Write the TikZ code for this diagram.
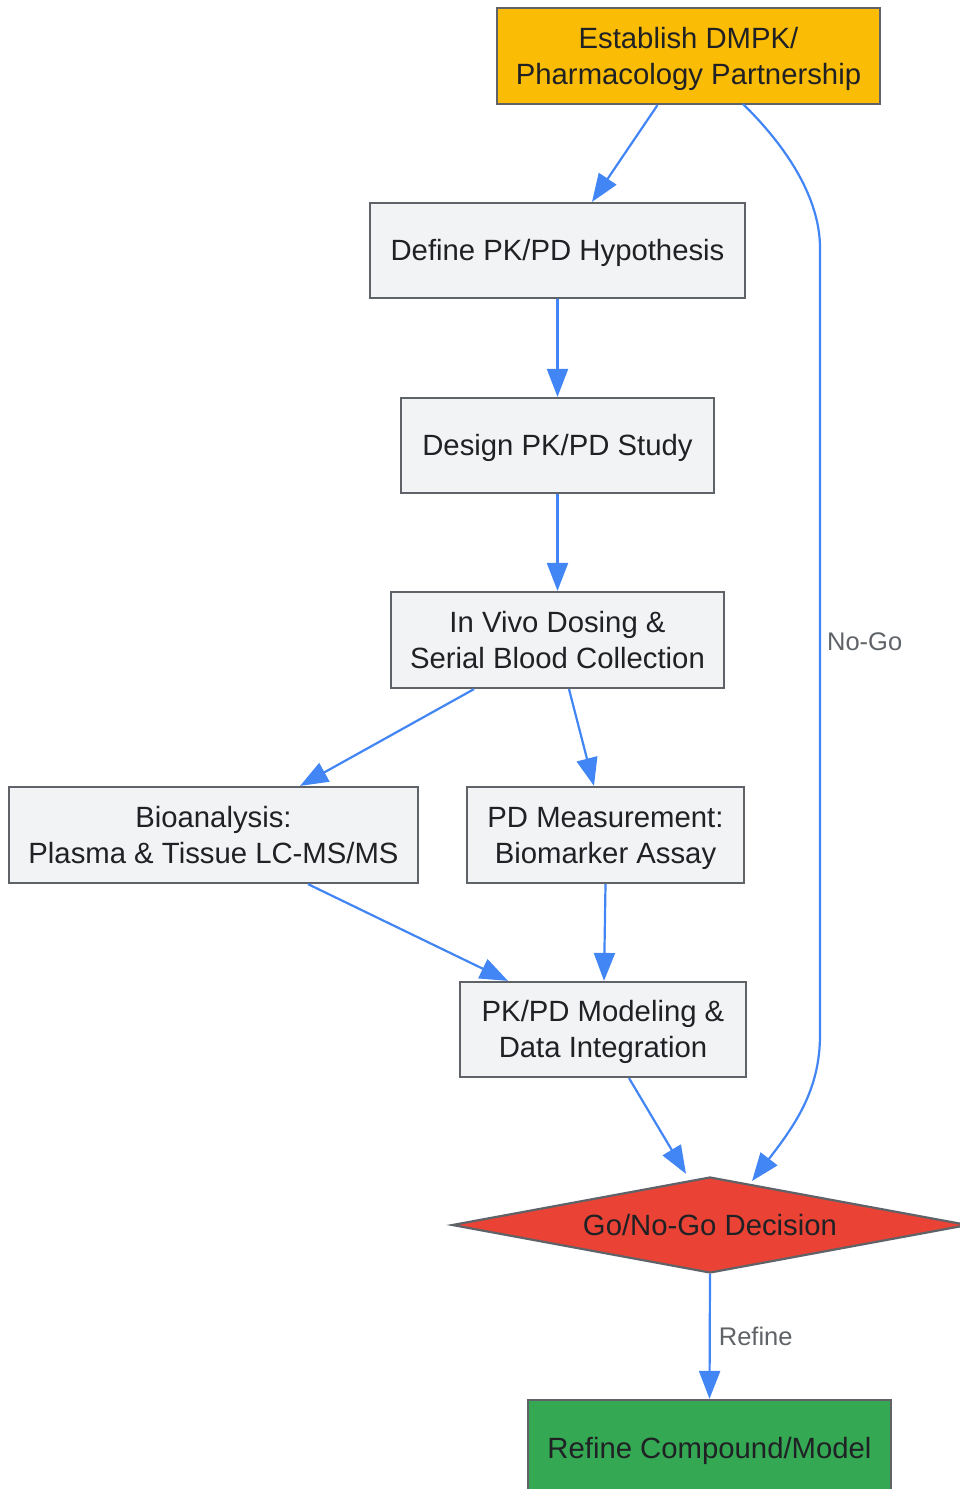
\documentclass[tikz,border=0pt]{standalone}
\usepackage{fontspec}
\setmainfont{Liberation Sans}
\usetikzlibrary{arrows.meta,shapes.geometric}
\definecolor{edgeblue}{HTML}{4285F4}
\definecolor{bordergray}{HTML}{5F6368}
\definecolor{boxfill}{HTML}{F1F3F4}
\definecolor{txt}{HTML}{202124}
\definecolor{ylw}{HTML}{FBBC05}
\definecolor{rd}{HTML}{EA4335}
\definecolor{grn}{HTML}{34A853}
\newcommand{\linestrut}{\rule[-7.8pt]{0pt}{36pt}}
\tikzset{
  procbox/.style={draw=bordergray, line width=2.2pt, fill=boxfill, rectangle, inner sep=0pt,
    align=center, text=txt, font=\fontsize{29.3}{36}\selectfont,
    execute at begin node=\linestrut, execute at end node=\linestrut},
  flow/.style={draw=edgeblue, line width=2.2pt, -{Triangle[length=28pt,width=21pt]}},
  elabel/.style={text=bordergray, font=\fontsize{25.5}{30}\selectfont, inner sep=0pt}
}
\begin{document}
\begin{tikzpicture}[x=1pt,y=-1pt]
\useasboundingbox (0,0) rectangle (959,1489);
\node[procbox, fill=ylw, minimum width=383, minimum height=96] (A) at (688.5,56) {\linestrut Establish DMPK/\\Pharmacology Partnership};
\node[procbox, minimum width=375, minimum height=95] (B) at (557.5,250.5) {Define PK/PD Hypothesis};
\node[procbox, minimum width=313, minimum height=95] (C) at (557.5,445.5) {Design PK/PD Study};
\node[procbox, minimum width=333, minimum height=96] (D) at (557.5,640) {\linestrut In Vivo Dosing \&\\Serial Blood Collection};
\node[procbox, minimum width=409, minimum height=96] (E) at (213.5,835) {\linestrut Bioanalysis:\\Plasma \& Tissue LC-MS/MS};
\node[procbox, minimum width=277, minimum height=96] (F) at (605.5,835) {\linestrut PD Measurement:\\Biomarker Assay};
\node[procbox, minimum width=286, minimum height=95] (G) at (603,1029.5) {\linestrut PK/PD Modeling \&\\Data Integration};
\node[procbox, fill=rd, diamond, aspect=5.35, minimum width=516, minimum height=96, inner sep=0pt] (H) at (710,1225) {Go/No-Go Decision};
\node[procbox, fill=grn, minimum width=363, minimum height=96] (I) at (709.5,1448) {Refine Compound/Model};

\coordinate (nA) at (743,104);
\coordinate (nB) at (752,1181);
\draw[flow] ([xshift=-31]A.south) -- ([xshift=34.5]B.north);
\draw[flow] (nA) .. controls (795,155) and (820,205) .. (820,248) -- (820,1035)
  node[pos=0.5, right=6pt, elabel] (nogo) {No-Go}
  .. controls (820,1090) and (795,1125) .. (nB);
\draw[flow] (B.south) -- (C.north);
\draw[flow] (C.south) -- (D.north);
\draw[flow] ([xshift=-83.5]D.south) -- ([xshift=86.5]E.north);
\draw[flow] ([xshift=11.5]D.south) -- ([xshift=-11.5]F.north);
\draw[flow] ([xshift=94.5]E.south) -- ([xshift=-95]G.north);
\draw[flow] (F.south) -- ([xshift=1]G.north);
\draw[flow] ([xshift=26]G.south) -- ([xshift=-24,yshift=2]H.north);
\draw[flow] (H.south) -- (I.north) node[midway, right=8pt, elabel] (ref) {Refine};
\end{tikzpicture}
\end{document}
